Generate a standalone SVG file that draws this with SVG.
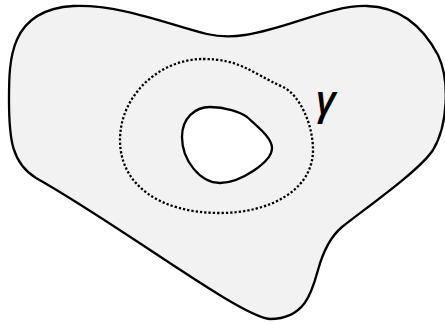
<svg xmlns="http://www.w3.org/2000/svg" width="445" height="324" viewBox="0 0 445 324">
<style>
.line{stroke:#000;stroke-width:2.3;fill:none;stroke-linejoin:round}
.dots{stroke:#000;stroke-width:2.3;fill:none;stroke-dasharray:2.3 2}
.lbl{font-family:"Open Sans","DejaVu Sans",sans-serif;font-style:italic;font-weight:600;font-size:40px;fill:#000}
</style>
<rect width="445" height="324" fill="#fff"/>
<g id="region">
<path class="line" style="fill:#f2f2f2" d="M 9,100 C 9,60 9,10 73,6 C 120,4 170,25 207,34 C 220,37 232,37 245,35 C 290,28 330,5 367,6 C 400,7 422,25 438,55 C 450,80 448,125 433,150 C 420,170 370,205 342,227 C 330,237 323,252 318,270 C 312,292 305,319 270,319 C 240,317 120,225 36,178 C 12,163 9,140 9,100 Z"/>
</g>
<g id="hole">
<path class="line" style="fill:#fff" d="M 210,107 C 225,107 240,112 247,117 C 258,127 272,138 272,148 C 272,162 240,183 220,183 C 200,183 182,160 182,137 C 182,118 195,107 210,107 Z"/>
</g>
<g id="gamma">
<path class="dots" d="M 203,59 C 240,59 250,72 283,87 C 300,95 313,125 313,150 C 313,190 270,213 220,213 C 160,213 120,185 120,140 C 120,95 160,59 203,59 Z"/>
<text class="lbl" x="316" y="114">γ</text>
</g>
</svg>
